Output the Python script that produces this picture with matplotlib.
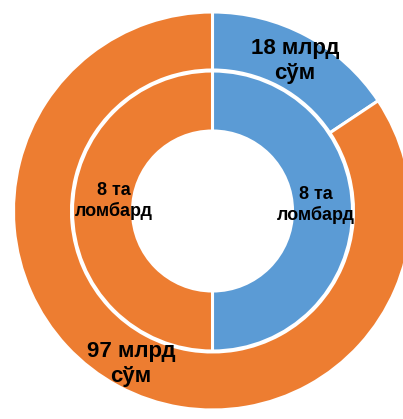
"""Nested donut: pawnshop count vs volume."""

import matplotlib.pyplot as plt

plt.rcParams["font.family"] = ["Liberation Sans", "DejaVu Sans"]

outer_values = [18, 97]
outer_labels = ["18 млрд\nсўм", "97 млрд\nсўм"]
inner_values = [8, 8]
inner_labels = ["8 та\nломбард", "8 та\nломбард"]
colors = ["#5B9BD5", "#ED7D31"]

W, H = 403, 419
cx, cy, r = 212.5, 211, 200  # circle centre / radius in pixels

fig = plt.figure(figsize=(W / 100, H / 100), dpi=100)
ax = fig.add_axes([(cx - r) / W, (H - cy - r) / H, 2 * r / W, 2 * r / H])

wp = dict(edgecolor="white", linewidth=2.2)
ax.pie(outer_values, radius=0.995, colors=colors, startangle=90, counterclock=False,
       wedgeprops=dict(width=0.29, **wp), frame=True)
ax.pie(inner_values, radius=0.70, colors=colors, startangle=90, counterclock=False,
       wedgeprops=dict(width=0.30, **wp), frame=True)
ax.set_xlim(-1, 1)
ax.set_ylim(-1, 1)
ax.set_aspect("equal")
ax.axis("off")


def px(x, y):
    return (x - cx) / r, (cy - y) / r


# label positions in pixels
ax.text(*px(295, 61), outer_labels[0], ha="center", va="center", fontsize=16,
        fontweight="bold", linespacing=1.2)
ax.text(*px(131, 364), outer_labels[1], ha="center", va="center", fontsize=16,
        fontweight="bold", linespacing=1.2)
ax.text(*px(315.5, 205), inner_labels[0], ha="center", va="center", fontsize=13,
        fontweight="bold", linespacing=1.2)
ax.text(*px(113.5, 201), inner_labels[1], ha="center", va="center", fontsize=13,
        fontweight="bold", linespacing=1.2)

fig.savefig("out.png", dpi=100)
